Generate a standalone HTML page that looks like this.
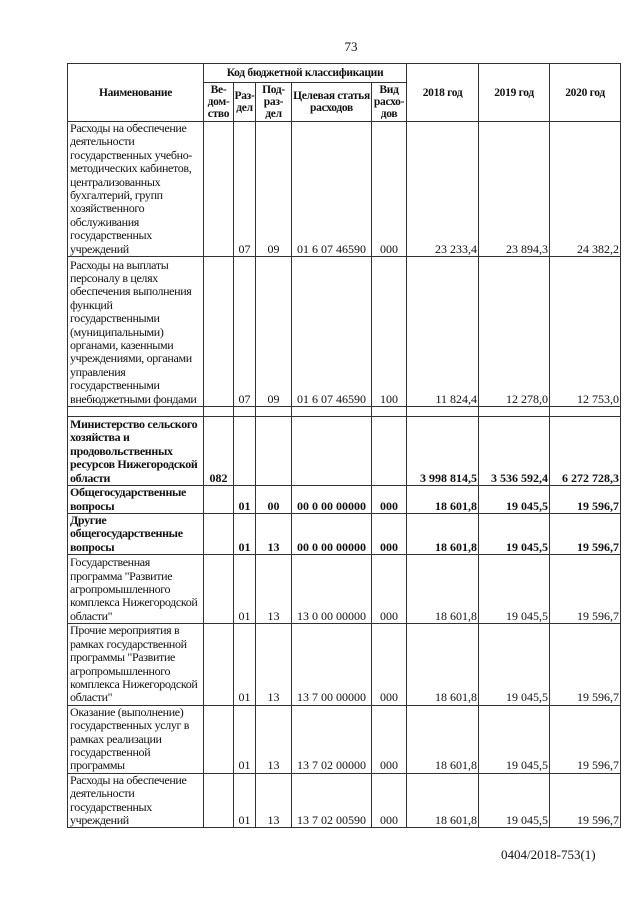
<!DOCTYPE html>
<html><head><meta charset="utf-8"><style>
html,body{margin:0;padding:0;background:#fff;}
body{width:640px;height:905px;position:relative;overflow:hidden;font-family:"Liberation Serif","DejaVu Serif",serif;color:#111;}
.pn{position:absolute;top:39px;left:0;width:640px;text-align:center;font-size:13px;padding-left:62px;box-sizing:border-box;}
table{position:absolute;left:67px;top:63px;border-collapse:collapse;table-layout:fixed;width:553px;}
td{border:1px solid #333;font-size:12px;line-height:13.4px;padding:0 2px;vertical-align:bottom;white-space:nowrap;overflow:hidden;}
td.n{text-align:left;padding-left:2px;letter-spacing:-0.35px;}
td.c{text-align:center;padding:0;}
td.r{text-align:right;padding-right:1px;}
.h td{vertical-align:middle;text-align:center;font-weight:bold;line-height:12px;padding:0;font-size:11.5px;letter-spacing:-0.3px;}
.b td{font-weight:bold;}
.ft{position:absolute;left:501px;top:847px;font-size:13px;}
</style></head><body>
<div class="pn">73</div>
<table>
<colgroup><col style="width:136px"><col style="width:30px"><col style="width:22px"><col style="width:36px"><col style="width:80px"><col style="width:35px"><col style="width:72px"><col style="width:71px"><col style="width:71px"></colgroup>
<tr class="h" style="height:19px"><td rowspan="2">Наименование</td><td colspan="5">Код бюджетной классификации</td><td rowspan="2">2018 год</td><td rowspan="2">2019 год</td><td rowspan="2">2020 год</td></tr>
<tr class="h" style="height:39px"><td>Ве-<br>дом-<br>ство</td><td>Раз-<br>дел</td><td>Под-<br>раз-<br>дел</td><td>Целевая статья<br>расходов</td><td>Вид<br>расхо-<br>дов</td></tr>
<tr style="height:134px"><td class="n">Расходы на обеспечение<br>деятельности<br>государственных учебно-<br>методических кабинетов,<br>централизованных<br>бухгалтерий, групп<br>хозяйственного<br>обслуживания<br>государственных<br>учреждений</td><td></td><td class="c">07</td><td class="c">09</td><td class="c">01 6 07 46590</td><td class="c">000</td><td class="r">23 233,4</td><td class="r">23 894,3</td><td class="r">24 382,2</td></tr>
<tr style="height:150px"><td class="n">Расходы на выплаты<br>персоналу в целях<br>обеспечения выполнения<br>функций<br>государственными<br>(муниципальными)<br>органами, казенными<br>учреждениями, органами<br>управления<br>государственными<br>внебюджетными фондами</td><td></td><td class="c">07</td><td class="c">09</td><td class="c">01 6 07 46590</td><td class="c">100</td><td class="r">11 824,4</td><td class="r">12 278,0</td><td class="r">12 753,0</td></tr>
<tr style="height:10px"><td></td><td></td><td></td><td></td><td></td><td></td><td></td><td></td><td></td></tr>
<tr class="b" style="height:69px"><td class="n">Министерство сельского<br>хозяйства и<br>продовольственных<br>ресурсов Нижегородской<br>области</td><td class="c">082</td><td></td><td></td><td></td><td></td><td class="r">3 998 814,5</td><td class="r">3 536 592,4</td><td class="r">6 272 728,3</td></tr>
<tr class="b" style="height:28px"><td class="n">Общегосударственные<br>вопросы</td><td></td><td class="c">01</td><td class="c">00</td><td class="c">00 0 00 00000</td><td class="c">000</td><td class="r">18 601,8</td><td class="r">19 045,5</td><td class="r">19 596,7</td></tr>
<tr class="b" style="height:40px"><td class="n">Другие<br>общегосударственные<br>вопросы</td><td></td><td class="c">01</td><td class="c">13</td><td class="c">00 0 00 00000</td><td class="c">000</td><td class="r">18 601,8</td><td class="r">19 045,5</td><td class="r">19 596,7</td></tr>
<tr style="height:69px"><td class="n">Государственная<br>программа "Развитие<br>агропромышленного<br>комплекса Нижегородской<br>области"</td><td></td><td class="c">01</td><td class="c">13</td><td class="c">13 0 00 00000</td><td class="c">000</td><td class="r">18 601,8</td><td class="r">19 045,5</td><td class="r">19 596,7</td></tr>
<tr style="height:81px"><td class="n">Прочие мероприятия в<br>рамках государственной<br>программы "Развитие<br>агропромышленного<br>комплекса Нижегородской<br>области"</td><td></td><td class="c">01</td><td class="c">13</td><td class="c">13 7 00 00000</td><td class="c">000</td><td class="r">18 601,8</td><td class="r">19 045,5</td><td class="r">19 596,7</td></tr>
<tr style="height:67px"><td class="n">Оказание (выполнение)<br>государственных услуг в<br>рамках реализации<br>государственной<br>программы</td><td></td><td class="c">01</td><td class="c">13</td><td class="c">13 7 02 00000</td><td class="c">000</td><td class="r">18 601,8</td><td class="r">19 045,5</td><td class="r">19 596,7</td></tr>
<tr style="height:54px"><td class="n">Расходы на обеспечение<br>деятельности<br>государственных<br>учреждений</td><td></td><td class="c">01</td><td class="c">13</td><td class="c">13 7 02 00590</td><td class="c">000</td><td class="r">18 601,8</td><td class="r">19 045,5</td><td class="r">19 596,7</td></tr>
</table>
<div class="ft">0404/2018-753(1)</div>
</body></html>
